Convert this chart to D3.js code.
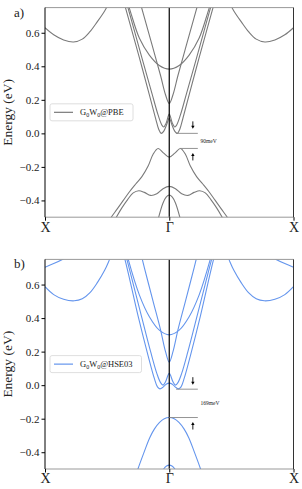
<!DOCTYPE html>
<html>
<head>
<meta charset="utf-8">
<style>
    body { margin: 0; background: white; }
    svg { display: block; font-family: 'Liberation Serif', 'DejaVu Serif', serif; }
</style>
</head>
<body>
<svg width="302" height="489"></svg>

<script src="https://d3js.org/d3.v7.min.js"></script>
<script>
    // k goes from -1 (X) through 0 (Gamma) to 1 (X), energies in eV
    let pbeBands = [
        [[-1.0, 0.63], [-0.93, 0.588], [-0.85, 0.557], [-0.77, 0.545], [-0.7, 0.562], [-0.64, 0.605], [-0.58, 0.665], [-0.52, 0.73], [-0.47, 0.80]],
        [[0.47, 0.80], [0.52, 0.73], [0.58, 0.665], [0.64, 0.605], [0.7, 0.562], [0.77, 0.545], [0.85, 0.557], [0.93, 0.588], [1.0, 0.63]],
        [[-0.37, 0.87], [-0.31, 0.72], [-0.24, 0.567], [-0.16, 0.467], [-0.08, 0.405], [0, 0.383], [0.08, 0.405], [0.16, 0.467], [0.24, 0.567], [0.31, 0.72], [0.37, 0.87]],
        [[-0.26, 0.85], [-0.2, 0.69], [-0.13, 0.505], [-0.07, 0.345], [-0.03, 0.23], [0, 0.178], [0.03, 0.23], [0.07, 0.345], [0.13, 0.505], [0.2, 0.69], [0.26, 0.85]],
        [[-0.42, 0.93], [-0.33, 0.69], [-0.24, 0.45], [-0.16, 0.23], [-0.11, 0.09], [-0.085, 0.025], [-0.065, 0.0], [-0.045, 0.012], [-0.022, 0.05], [0, 0.09],
         [0.022, 0.05], [0.045, 0.012], [0.065, 0.0], [0.085, 0.025], [0.11, 0.09], [0.16, 0.23], [0.24, 0.45], [0.33, 0.69], [0.42, 0.93]],
        [[-0.40, 0.93], [-0.31, 0.69], [-0.22, 0.45], [-0.14, 0.24], [-0.09, 0.11], [-0.06, 0.05], [-0.045, 0.038], [-0.025, 0.06], [0, 0.115],
         [0.025, 0.06], [0.045, 0.038], [0.06, 0.05], [0.09, 0.11], [0.14, 0.24], [0.22, 0.45], [0.31, 0.69], [0.40, 0.93]],
        [[-0.52, -0.56], [-0.467, -0.5], [-0.42, -0.452], [-0.37, -0.4], [-0.32, -0.348], [-0.27, -0.302], [-0.22, -0.258], [-0.17, -0.195], [-0.13, -0.125], [-0.09, -0.09], [-0.045, -0.118], [0, -0.142],
         [0.045, -0.118], [0.09, -0.09], [0.13, -0.125], [0.17, -0.195], [0.22, -0.258], [0.27, -0.302], [0.32, -0.348], [0.37, -0.4], [0.42, -0.452], [0.467, -0.5], [0.52, -0.56]],
        [[-0.47, -0.56], [-0.426, -0.5], [-0.38, -0.443], [-0.335, -0.395], [-0.29, -0.355], [-0.245, -0.342], [-0.2, -0.352], [-0.15, -0.37], [-0.1, -0.36], [-0.05, -0.33], [0, -0.316],
         [0.05, -0.33], [0.1, -0.36], [0.15, -0.37], [0.2, -0.352], [0.245, -0.342], [0.29, -0.355], [0.335, -0.395], [0.38, -0.443], [0.426, -0.5], [0.47, -0.56]],
        [[-0.12, -0.62], [-0.085, -0.5], [-0.05, -0.415], [-0.025, -0.38], [0, -0.368], [0.025, -0.38], [0.05, -0.415], [0.085, -0.5], [0.12, -0.62]]
    ]

    let hseBands = [
        [[-1.0, 0.703], [-0.93, 0.725], [-0.86, 0.75], [-0.8, 0.775]],
        [[0.8, 0.775], [0.86, 0.75], [0.93, 0.725], [1.0, 0.703]],
        [[-1.0, 0.587], [-0.93, 0.54], [-0.85, 0.512], [-0.765, 0.503], [-0.7, 0.515], [-0.64, 0.55], [-0.58, 0.61], [-0.52, 0.685], [-0.48, 0.75], [-0.44, 0.82]],
        [[0.44, 0.82], [0.48, 0.75], [0.52, 0.685], [0.58, 0.61], [0.64, 0.55], [0.7, 0.515], [0.765, 0.503], [0.85, 0.512], [0.93, 0.54], [1.0, 0.587]],
        [[-0.38, 0.9], [-0.33, 0.75], [-0.24, 0.537], [-0.16, 0.408], [-0.08, 0.328], [0, 0.3], [0.08, 0.328], [0.16, 0.408], [0.24, 0.537], [0.33, 0.75], [0.38, 0.9]],
        [[-0.26, 0.88], [-0.2, 0.70], [-0.13, 0.5], [-0.07, 0.33], [-0.03, 0.2], [0, 0.137], [0.03, 0.2], [0.07, 0.33], [0.13, 0.5], [0.2, 0.70], [0.26, 0.88]],
        [[-0.43, 0.96], [-0.34, 0.70], [-0.25, 0.41], [-0.17, 0.175], [-0.12, 0.04], [-0.095, -0.01], [-0.075, -0.022], [-0.05, -0.012], [-0.025, 0.006], [0, 0.012],
         [0.025, 0.006], [0.05, -0.012], [0.075, -0.022], [0.095, -0.01], [0.12, 0.04], [0.17, 0.175], [0.25, 0.41], [0.34, 0.70], [0.43, 0.96]],
        [[-0.41, 0.95], [-0.32, 0.69], [-0.23, 0.43], [-0.15, 0.2], [-0.1, 0.07], [-0.07, 0.015], [-0.05, 0.0], [-0.03, 0.02], [0, 0.07],
         [0.03, 0.02], [0.05, 0.0], [0.07, 0.015], [0.1, 0.07], [0.15, 0.2], [0.23, 0.43], [0.32, 0.69], [0.41, 0.95]],
        [[-0.3, -0.61], [-0.252, -0.5], [-0.2, -0.395], [-0.158, -0.315], [-0.12, -0.262], [-0.078, -0.222], [-0.04, -0.2], [0, -0.193],
         [0.04, -0.2], [0.078, -0.222], [0.12, -0.262], [0.158, -0.315], [0.2, -0.395], [0.252, -0.5], [0.3, -0.61]],
        [[-0.07, -0.54], [-0.045, -0.5], [-0.022, -0.482], [0, -0.477], [0.022, -0.482], [0.045, -0.5], [0.07, -0.54]]
    ]

    let kTicks = [-1, 0, 1]
    let kLabels = ["X", "Γ", "X"]
    let eTicks = [-0.4, -0.2, 0.0, 0.2, 0.4, 0.6]
    let panelLetters = ["a)", "b)"]
    let legendMethods = ["@PBE", "@HSE03"]
    let gapEdges = [[0.0, -0.09], [-0.024, -0.193]]   // CBM, VBM
    let gapStartK = [[0.055, 0.085], [0.055, 0.0]]
    let gapLabels = ["90meV", "169meV"]

    let svg = d3.select("svg")
    let x = d3.scaleLinear().domain([-1, 1]).range([45, 293.5])
    let panelTops = [7.6, 259.4]
    let panelH = 209.6
    let colors = ["#7a7a7a", "#6495ed"]
    let legendBoxW = [83, 91.5]
    let serif = "'Liberation Serif', 'DejaVu Serif', serif"

    ;[pbeBands, hseBands].forEach(function (bands, i) {
        let top = panelTops[i]
        let bottom = top + panelH
        let y = d3.scaleLinear().domain([-0.5, 0.75]).range([bottom, top])
        let g = svg.append("g")

        g.append("clipPath").attr("id", "clip" + i)
            .append("rect")
            .attr("x", x(-1)).attr("y", top)
            .attr("width", x(1) - x(-1)).attr("height", panelH)

        let line = d3.line()
            .x(d => x(d[0]))
            .y(d => y(d[1]))
            .curve(d3.curveCatmullRom.alpha(0.5))

        g.append("g")
            .attr("clip-path", `url(#clip${i})`)
            .selectAll("path")
            .data(bands)
            .join("path")
            .attr("d", line)
            .attr("fill", "none")
            .attr("stroke", colors[i])
            .attr("stroke-width", 1.1)

        // Gamma line
        g.append("line")
            .attr("x1", x(0)).attr("x2", x(0))
            .attr("y1", top).attr("y2", bottom)
            .attr("stroke", "black").attr("stroke-width", 1.2)

        // frame
        g.append("line").attr("x1", x(-1)).attr("x2", x(1)).attr("y1", top).attr("y2", top)
            .attr("stroke", "#999").attr("stroke-width", 1)
        g.append("line").attr("x1", x(-1)).attr("x2", x(1)).attr("y1", bottom).attr("y2", bottom)
            .attr("stroke", "#999").attr("stroke-width", 1)
        g.append("line").attr("x1", x(-1)).attr("x2", x(-1)).attr("y1", top).attr("y2", bottom)
            .attr("stroke", "black").attr("stroke-width", 1)
        g.append("line").attr("x1", x(1)).attr("x2", x(1)).attr("y1", top).attr("y2", bottom)
            .attr("stroke", "#333").attr("stroke-width", 1)

        // axes
        let yAxis = g.append("g")
            .attr("transform", `translate(${x(-1)},0)`)
            .call(d3.axisLeft(y).tickValues(eTicks).tickSize(3.5).tickPadding(2).tickFormat(d3.format(".1f")))
        yAxis.attr("font-family", serif)
        yAxis.select(".domain").remove()
        yAxis.selectAll("text").attr("font-size", 11).style("font-family", serif).attr("fill", "#222")

        let xAxis = g.append("g")
            .attr("transform", `translate(0,${bottom})`)
            .call(d3.axisBottom(x).tickValues(kTicks).tickSize(3.5).tickPadding(1).tickFormat((d, j) => kLabels[j]))
        xAxis.attr("font-family", serif)
        xAxis.select(".domain").remove()
        xAxis.selectAll("text").attr("font-size", 14).style("font-family", serif).attr("fill", "#222")

        g.append("text")
            .attr("transform", `translate(12,${(top + bottom) / 2}) rotate(-90)`)
            .attr("text-anchor", "middle")
            .attr("font-size", 13.5)
            .attr("fill", "#222")
            .text("Energy (eV)")

        g.append("text")
            .attr("x", 14).attr("y", top + 9)
            .attr("font-size", 13)
            .attr("fill", "#222")
            .text(panelLetters[i])

        // legend
        let ly = y(0.2) + 4
        g.append("rect")
            .attr("x", 50).attr("y", ly)
            .attr("width", legendBoxW[i]).attr("height", 17)
            .attr("rx", 2)
            .attr("fill", "white").attr("fill-opacity", 0.85)
            .attr("stroke", "#d5d5d5").attr("stroke-width", 0.8)
        g.append("line")
            .attr("x1", 54).attr("x2", 73)
            .attr("y1", ly + 8.5).attr("y2", ly + 8.5)
            .attr("stroke", colors[i]).attr("stroke-width", 1.2)
        let lt = g.append("text")
            .attr("x", 80).attr("y", ly + 11.5)
            .attr("font-size", 8.5)
            .attr("fill", "#222")
        lt.append("tspan").text("G")
        lt.append("tspan").attr("font-size", 6).attr("dy", 1.8).text("0")
        lt.append("tspan").attr("dy", -1.8).text("W")
        lt.append("tspan").attr("font-size", 6).attr("dy", 1.8).text("0")
        lt.append("tspan").attr("dy", -1.8).text(legendMethods[i])

        // gap annotation
        let kEnd = 0.23
        let kArrow = 0.19
        gapEdges[i].forEach(function (e, j) {
            g.append("line")
                .attr("x1", x(gapStartK[i][j])).attr("x2", x(kEnd))
                .attr("y1", y(e)).attr("y2", y(e))
                .attr("stroke", "#888").attr("stroke-width", 0.9)
            let dir = j === 0 ? 1 : -1          // down arrow above CBM, up arrow below VBM
            let tip = y(e) - dir * 4.5
            let tail = tip - dir * 7.5
            g.append("line")
                .attr("x1", x(kArrow)).attr("x2", x(kArrow))
                .attr("y1", tail).attr("y2", tip - dir * 2)
                .attr("stroke", "black").attr("stroke-width", 0.9)
            g.append("path")
                .attr("d", `M${x(kArrow) - 1.7},${tip - dir * 3} L${x(kArrow) + 1.7},${tip - dir * 3} L${x(kArrow)},${tip} Z`)
                .attr("fill", "black")
        })
        g.append("text")
            .attr("x", 200.5)
            .attr("y", (y(gapEdges[i][0]) + y(gapEdges[i][1])) / 2 + 2)
            .attr("font-size", 5.5)
            .attr("fill", "#222")
            .text(gapLabels[i])
    })
</script>
</body>
</html>
